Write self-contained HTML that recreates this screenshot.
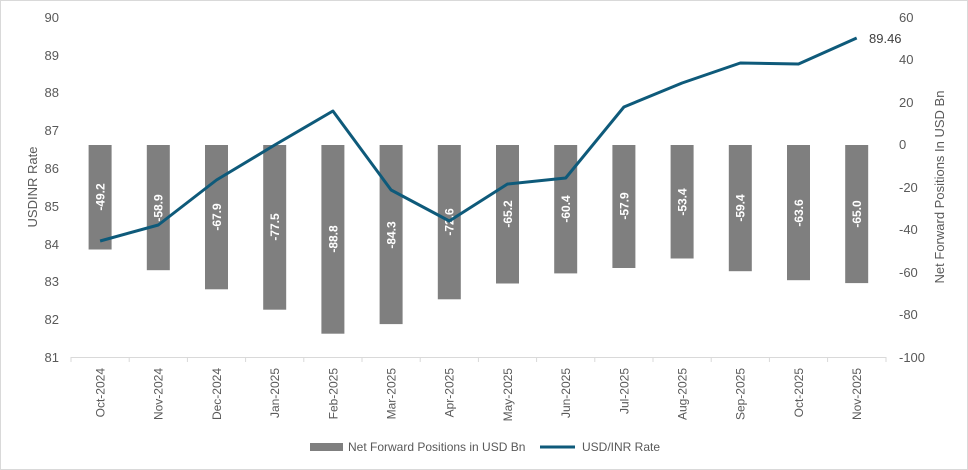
<!DOCTYPE html>
<html><head><meta charset="utf-8"><style>
body{margin:0;background:#fff}
svg{display:block;font-family:"Liberation Sans",Arial,sans-serif}
</style></head><body>
<svg width="968" height="470" viewBox="0 0 968 470">
<rect x="0.5" y="0.5" width="967" height="469" fill="#fff" stroke="#d9d9d9"/>
<g fill="#595959" font-size="13" text-anchor="end">
<text x="59" y="22">90</text><text x="59" y="60">89</text><text x="59" y="97">88</text><text x="59" y="135">87</text><text x="59" y="173">86</text><text x="59" y="211">85</text><text x="59" y="249">84</text><text x="59" y="286">83</text><text x="59" y="324">82</text><text x="59" y="362">81</text>
</g>
<g fill="#595959" font-size="13" text-anchor="start">
<text x="899" y="22">60</text><text x="899" y="64">40</text><text x="899" y="107">20</text><text x="899" y="149">0</text><text x="899" y="192">-20</text><text x="899" y="234">-40</text><text x="899" y="277">-60</text><text x="899" y="319">-80</text><text x="899" y="362">-100</text>
</g>
<text transform="translate(37,187) rotate(-90)" fill="#595959" font-size="13" text-anchor="middle">USDINR Rate</text>
<text transform="translate(944,187) rotate(-90)" fill="#595959" font-size="13" text-anchor="middle">Net Forward Positions In USD Bn</text>
<line x1="71" y1="357.5" x2="886" y2="357.5" stroke="#d9d9d9"/>
<g stroke="#d9d9d9">
<line x1="71" y1="357" x2="71" y2="362"/><line x1="129.2" y1="357" x2="129.2" y2="362"/><line x1="187.4" y1="357" x2="187.4" y2="362"/><line x1="245.6" y1="357" x2="245.6" y2="362"/><line x1="303.8" y1="357" x2="303.8" y2="362"/><line x1="362" y1="357" x2="362" y2="362"/><line x1="420.2" y1="357" x2="420.2" y2="362"/><line x1="478.4" y1="357" x2="478.4" y2="362"/><line x1="536.6" y1="357" x2="536.6" y2="362"/><line x1="594.8" y1="357" x2="594.8" y2="362"/><line x1="653" y1="357" x2="653" y2="362"/><line x1="711.2" y1="357" x2="711.2" y2="362"/><line x1="769.4" y1="357" x2="769.4" y2="362"/><line x1="827.6" y1="357" x2="827.6" y2="362"/><line x1="886" y1="357" x2="886" y2="362"/>
</g>
<g fill="#7f7f7f">
<rect x="88.6" y="145" width="23" height="104.5"/>
<rect x="146.8" y="145" width="23" height="125.2"/>
<rect x="205" y="145" width="23" height="144.3"/>
<rect x="263.2" y="145" width="23" height="164.7"/>
<rect x="321.4" y="145" width="23" height="188.7"/>
<rect x="379.6" y="145" width="23" height="179.1"/>
<rect x="437.8" y="145" width="23" height="154.3"/>
<rect x="496" y="145" width="23" height="138.5"/>
<rect x="554.2" y="145" width="23" height="128.4"/>
<rect x="612.4" y="145" width="23" height="123"/>
<rect x="670.6" y="145" width="23" height="113.5"/>
<rect x="728.8" y="145" width="23" height="126.2"/>
<rect x="787" y="145" width="23" height="135.2"/>
<rect x="845.2" y="145" width="23" height="138.1"/>
</g>
<g fill="#fff" font-size="12" font-weight="bold" text-anchor="middle">
<text transform="translate(104.5,197) rotate(-90)">-49.2</text>
<text transform="translate(162.7,208) rotate(-90)">-58.9</text>
<text transform="translate(220.9,217) rotate(-90)">-67.9</text>
<text transform="translate(279.1,227) rotate(-90)">-77.5</text>
<text transform="translate(337.3,239) rotate(-90)">-88.8</text>
<text transform="translate(395.5,235) rotate(-90)">-84.3</text>
<text transform="translate(453.7,222) rotate(-90)">-72.6</text>
<text transform="translate(511.9,214) rotate(-90)">-65.2</text>
<text transform="translate(570.1,209) rotate(-90)">-60.4</text>
<text transform="translate(628.3,206) rotate(-90)">-57.9</text>
<text transform="translate(686.5,202) rotate(-90)">-53.4</text>
<text transform="translate(744.7,208) rotate(-90)">-59.4</text>
<text transform="translate(802.9,213) rotate(-90)">-63.6</text>
<text transform="translate(861.1,214) rotate(-90)">-65.0</text>
</g>
<polyline fill="none" stroke="#0e5a7a" stroke-width="3" stroke-linejoin="round" points="100.1,241 158.3,225 216.5,180 274.7,145 332.9,111 391.1,190 449.3,221 507.5,184 565.7,178 623.9,107 682.1,83 740.3,63 798.5,64 856.7,38"/>
<text x="869" y="43" fill="#404040" font-size="13">89.46</text>
<g fill="#595959" font-size="12" text-anchor="end">
<text transform="translate(104.5,368) rotate(-90)">Oct-2024</text>
<text transform="translate(162.7,368) rotate(-90)">Nov-2024</text>
<text transform="translate(220.9,368) rotate(-90)">Dec-2024</text>
<text transform="translate(279.1,368) rotate(-90)">Jan-2025</text>
<text transform="translate(337.3,368) rotate(-90)">Feb-2025</text>
<text transform="translate(395.5,368) rotate(-90)">Mar-2025</text>
<text transform="translate(453.7,368) rotate(-90)">Apr-2025</text>
<text transform="translate(511.9,368) rotate(-90)">May-2025</text>
<text transform="translate(570.1,368) rotate(-90)">Jun-2025</text>
<text transform="translate(628.3,368) rotate(-90)">Jul-2025</text>
<text transform="translate(686.5,368) rotate(-90)">Aug-2025</text>
<text transform="translate(744.7,368) rotate(-90)">Sep-2025</text>
<text transform="translate(802.9,368) rotate(-90)">Oct-2025</text>
<text transform="translate(861.1,368) rotate(-90)">Nov-2025</text>
</g>
<rect x="310" y="443" width="33" height="8" fill="#7f7f7f"/>
<text x="348" y="451" fill="#595959" font-size="12">Net Forward Positions in USD Bn</text>
<line x1="540" y1="447" x2="575" y2="447" stroke="#0e5a7a" stroke-width="3"/>
<text x="582" y="451" fill="#595959" font-size="12">USD/INR Rate</text>
</svg>
</body></html>
